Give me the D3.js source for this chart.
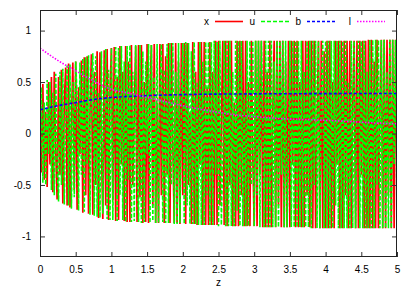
<!DOCTYPE html>
<html><head><meta charset="utf-8">
<script src="https://cdn.jsdelivr.net/npm/d3@7"></script>
<style>body{margin:0;background:#fff}svg{display:block;font-family:"Liberation Sans",Arial,sans-serif}</style>
</head><body>
<svg id="c" width="415" height="290"></svg>
<script>
// sample step of the oscillating series along z
const zStep = 0.02;
const xVals = [
0.42,-0.38,0.48,-0.45,0.21,-0.52,0.5,-0.3,0.55,-0.57,
0.6,-0.15,-0.64,0.55,-0.4,0.62,-0.68,0.3,0.64,-0.7,
0.68,-0.72,0.1,0.69,-0.55,0.7,-0.74,0.45,-0.2,0.71,
-0.77,0.74,-0.6,0.75,-0.78,0.2,0.77,-0.79,0.6,-0.5,
0.8,-0.82,0.79,-0.1,-0.83,0.81,-0.7,0.82,-0.84,0.4,
0.83,-0.65,0.84,-0.85,0.55,-0.84,0.85,-0.3,0.6,-0.85,
0.85,-0.86,0.7,-0.86,0.86,-0.5,0.2,0.85,-0.86,0.86,
-0.62,0.86,-0.87,0.5,-0.86,0.87,-0.87,0.4,0.86,-0.7,
0.87,-0.87,0.3,-0.87,0.87,-0.6,0.87,-0.87,0.75,-0.4,
0.88,-0.87,0.88,-0.1,-0.87,0.88,-0.87,0.7,-0.88,0.88,
-0.6,0.88,-0.88,0.88,-0.5,0.2,-0.88,0.89,-0.88,0.6,
-0.89,0.89,-0.3,0.89,-0.89,0.89,-0.89,0.45,-0.89,0.89,
-0.89,0.6,-0.89,0.9,-0.89,0.9,-0.7,0.1,0.9,-0.89,
0.9,-0.9,0.9,-0.5,0.9,-0.9,0.3,-0.9,0.9,-0.9,
0.9,-0.6,0.9,-0.9,0.9,-0.9,0.5,-0.9,0.9,-0.2,
-0.9,0.9,-0.9,0.9,-0.4,0.9,-0.91,0.9,-0.91,0.6,
-0.91,0.9,-0.91,0.2,0.9,-0.91,0.9,-0.7,0.9,-0.91,
0.9,-0.91,0.7,-0.91,0.9,-0.91,0.9,-0.3,0.9,-0.91,
0.9,-0.91,0.5,-0.91,0.9,-0.91,0.9,-0.6,0.9,-0.91,
0.9,-0.92,0.9,-0.92,0.1,0.9,-0.92,0.9,-0.92,0.8,
-0.92,0.9,-0.92,0.9,-0.92,0.5,-0.92,0.9,-0.3,0.9,
-0.92,0.9,-0.92,0.9,-0.6,0.9,-0.92,0.9,-0.92,0.3,
0.9,-0.92,0.9,-0.92,0.9,-0.4,0.9,-0.92,0.9,-0.92,
0.91,-0.92,0.91,-0.92,0.7,-0.92,0.91,-0.92,0.2,0.91,
-0.92,0.91,-0.92,0.91,-0.6,0.91,-0.92,0.91,-0.92,0.91,-0.5
];
const uVals = [
-0.35,0.45,-0.48,0.3,-0.5,0.52,-0.2,0.5,-0.55,0.4,
-0.6,0.58,-0.3,-0.66,0.6,-0.5,0.63,-0.69,0.2,0.66,
-0.7,0.67,-0.73,0.5,-0.62,0.7,0.35,-0.75,0.69,-0.4,
0.73,-0.76,0.74,-0.3,0.76,-0.79,0.5,0.78,-0.8,0.75,
-0.81,0.4,-0.82,0.8,-0.78,0.3,0.82,-0.83,0.62,-0.84,
0.83,-0.84,0.2,0.84,-0.85,0.83,-0.6,0.85,-0.84,0.7,
-0.86,0.85,-0.45,0.86,-0.86,0.6,-0.85,0.86,-0.3,-0.86,
0.86,-0.87,0.8,-0.86,0.7,-0.2,0.87,-0.87,0.86,-0.85,
0.55,-0.87,0.87,-0.87,0.4,0.87,-0.86,0.62,-0.87,0.87,
-0.87,0.88,-0.5,0.88,-0.88,0.6,-0.88,0.88,-0.87,0.3,
0.88,-0.88,0.89,-0.7,0.88,-0.88,0.8,-0.88,0.89,-0.88,
0.5,-0.89,0.89,-0.89,0.7,-0.89,0.89,-0.6,0.89,-0.89,
0.89,-0.89,0.9,-0.4,0.89,-0.9,0.9,-0.89,-0.2,0.9,
-0.9,0.9,-0.9,0.9,-0.9,0.6,-0.9,0.9,-0.75,0.9,
-0.9,0.9,-0.9,0.4,-0.9,0.9,-0.9,0.9,-0.5,0.9,
-0.9,0.9,-0.6,0.9,-0.91,0.9,0.2,-0.91,0.9,-0.91,
0.9,-0.91,0.9,-0.91,0.7,-0.91,0.9,-0.91,0.9,-0.4,
0.9,-0.91,0.9,-0.91,-0.2,0.9,-0.91,0.9,-0.91,0.9,
-0.91,0.9,-0.91,0.9,-0.91,0.6,-0.91,0.9,-0.91,0.9,
-0.92,0.9,-0.5,0.9,-0.92,0.9,-0.92,0.4,0.9,-0.92,
0.9,-0.92,0.9,-0.92,0.9,-0.92,0.9,-0.7,0.9,-0.92,
0.9,-0.92,0.9,-0.92,0.9,-0.92,0.5,-0.92,0.9,-0.92,
0.9,-0.92,0.2,0.9,-0.92,0.9,-0.92,0.9,-0.92,0.6,
-0.92,0.91,-0.92,0.91,-0.92,0.91,-0.5,0.91,-0.92,0.91,
-0.92,0.91,-0.92,0.6,-0.92,0.91,-0.92,0.91,-0.3,0.91,-0.9
];
const smoothZ = [0,0.25,0.5,0.75,1,1.25,1.5,1.75,2,2.25,2.5,2.75,3,3.25,3.5,3.75,4,4.25,4.5,4.75,5];
const bVals = [0.23,0.27,0.30,0.33,0.35,0.36,0.368,0.374,0.378,0.381,0.383,0.384,0.385,0.386,0.386,0.387,0.387,0.388,0.388,0.389,0.389];
const lVals = [0.83,0.71,0.61,0.51,0.43,0.39,0.35,0.31,0.27,0.235,0.205,0.18,0.165,0.15,0.14,0.135,0.128,0.12,0.11,0.10,0.095];
const xTicks = [0,0.5,1,1.5,2,2.5,3,3.5,4,4.5,5];
const xTickLabels = ["0","0.5","1","1.5","2","2.5","3","3.5","4","4.5","5"];
const yTicks = [-1,-0.5,0,0.5,1];
const yTickLabels = ["-1","-0.5","0","0.5","1"];
const seriesNames = ["x","u","b","l"];

const L=40,R=397,T=10,B=257;
const svg=d3.select("#c");
const xs=d3.scaleLinear().domain([0,5]).range([L,R]);
const ys=d3.scaleLinear().domain([-1.2,1.2]).range([B,T]);

const colors={x:"#ff0000",u:"#00ff00",b:"#0000ff",l:"#ff00ff"};
const dashes={x:"none",u:"4,2",b:"3,2",l:"1.5,1.5"};
const widths={x:1.7,u:1.6,b:1.6,l:1.6};

svg.append("clipPath").attr("id","pc").append("rect").attr("x",L).attr("y",T).attr("width",R-L).attr("height",B-T);
const g=svg.append("g").attr("clip-path","url(#pc)");
const ln=d3.line().x(d=>xs(d[0])).y(d=>ys(d[1]));
const ln2=d3.line().curve(d3.curveMonotoneX).x(d=>xs(d[0])).y(d=>ys(d[1]));
const series=[
 ["x", xVals.map((v,i)=>[i*zStep,v])],
 ["u", uVals.map((v,i)=>[i*zStep,v])],
 ["b", bVals.map((v,i)=>[smoothZ[i],v])],
 ["l", lVals.map((v,i)=>[smoothZ[i],v])]
];
series.forEach(([k,d])=>{
  g.append("path").attr("d",(k==="b"||k==="l")?ln2(d):ln(d))
   .style("fill","none").style("stroke",colors[k]).style("stroke-width",widths[k])
   .style("stroke-dasharray",dashes[k]).style("stroke-linejoin","bevel");
});

// axes (gnuplot style: inward ticks mirrored)
const xb=d3.axisBottom(xs).tickValues(xTicks).tickFormat((d,i)=>xTickLabels[i]).tickSizeInner(-5).tickSizeOuter(0).tickPadding(9);
const xt=d3.axisTop(xs).tickValues(xTicks).tickFormat("").tickSizeInner(-5).tickSizeOuter(0);
const yl=d3.axisLeft(ys).tickValues(yTicks).tickFormat((d,i)=>yTickLabels[i]).tickSizeInner(-5).tickSizeOuter(0).tickPadding(9);
const yr=d3.axisRight(ys).tickValues(yTicks).tickFormat("").tickSizeInner(-5).tickSizeOuter(0);
[ [xb,`translate(0,${B})`],[xt,`translate(0,${T})`],[yl,`translate(${L},0)`],[yr,`translate(${R},0)`] ].forEach(([a,t])=>{
  const s=svg.append("g").attr("transform",t).call(a);
  s.select(".domain").remove();
  s.selectAll(".tick line").attr("stroke","#333");
  s.selectAll("text").attr("font-size",10).attr("fill","#000").attr("font-family","Liberation Sans, Arial, sans-serif");
});
svg.append("rect").attr("x",L+0.5).attr("y",T+0.5).attr("width",R-L-1).attr("height",B-T-1)
  .attr("fill","none").attr("stroke","#222").attr("stroke-width",1);

svg.append("text").attr("x",(L+R)/2).attr("y",286).attr("text-anchor","middle").attr("font-size",10).text("z");

// legend
const legX=[209,255,301,351];
const lg=svg.append("g").attr("class","legend");
seriesNames.forEach((k,i)=>{
  const x0=legX[i];
  lg.append("text").attr("x",x0).attr("y",25).attr("text-anchor","end").attr("font-size",10).text(k);
  lg.append("path").attr("d",`M${x0+6},21.5H${x0+34}`)
    .style("fill","none").style("stroke",colors[k]).style("stroke-width",1.6).style("stroke-dasharray",dashes[k]);
});
</script>
</body></html>
